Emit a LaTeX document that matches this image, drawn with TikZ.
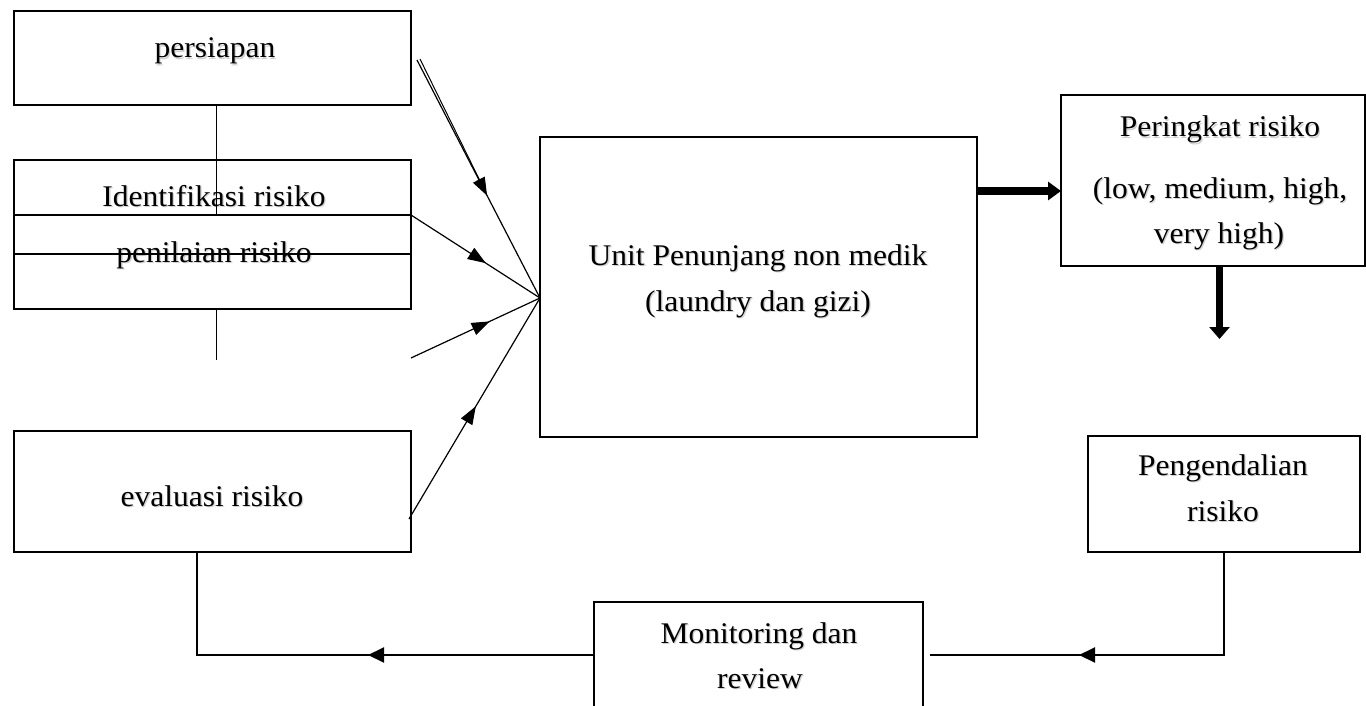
\documentclass[tikz,border=0pt]{standalone}
\usepackage{fontspec}
\setmainfont[FakeStretch=1.05]{Liberation Serif}
\usetikzlibrary{arrows.meta,decorations.markings}
\newcommand{\shadowtext}[1]{\makebox[0pt][l]{\hspace{1.3pt}\raisebox{-1.3pt}{\textcolor{black!18}{#1}}}#1}
\begin{document}
\begin{tikzpicture}[x=1pt,y=-1pt,
  box/.style={draw,line width=2.3pt,inner sep=0pt,outer sep=0pt},
  lbl/.style={anchor=base,inner sep=0pt,font=\fontsize{30}{36}\selectfont},
  conn/.style={line width=1.2pt},
  thickarr/.style={line width=7pt},
  midarrow/.style={postaction={decorate},decoration={markings,
      mark=at position #1 with {\arrow{Triangle[length=18pt,width=13pt]}}}}
]
\clip (0,0) rectangle (1366,706);
\fill[white] (0,0) rectangle (1366,706);

% texts
\node[lbl] (tprep) at (215,58) {\shadowtext{persiapan}};
\node[lbl] (tident) at (214,206) {\shadowtext{Identifikasi risiko}};
\node[lbl] (tpenil) at (214,262) {\shadowtext{penilaian risiko}};
\node[lbl] (teval) at (212,506) {\shadowtext{evaluasi risiko}};
\node[lbl] (tunit1) at (758,265.5) {\shadowtext{Unit Penunjang non medik}};
\node[lbl] (tunit2) at (758,311.5) {\shadowtext{(laundry dan gizi)}};
\node[lbl] (trank1) at (1220,137) {\shadowtext{Peringkat risiko}};
\node[lbl] (trank2) at (1220,198) {\shadowtext{(low, medium, high,}};
\node[lbl] (trank3) at (1219,243) {\shadowtext{very high)}};
\node[lbl] (tctrl1) at (1223,475) {\shadowtext{Pengendalian}};
\node[lbl] (tctrl2) at (1223,521) {\shadowtext{risiko}};
\node[lbl] (tmon1) at (759,643) {\shadowtext{Monitoring dan}};
\node[lbl] (tmon2) at (760,688) {\shadowtext{review}};

% boxes
\node[box,minimum width=397pt,minimum height=94pt] (prep) at (212.5,58) {};
\node[box,minimum width=397pt,minimum height=94pt] (ident) at (212.5,207) {};
\node[box,minimum width=397pt,minimum height=94pt] (penil) at (212.5,262) {};
\node[box,minimum width=397pt,minimum height=121pt] (eval) at (212.5,491.5) {};
\node[box,minimum width=437pt,minimum height=300pt] (unit) at (758.5,287) {};
\node[box,minimum width=304pt,minimum height=171pt] (rank) at (1213,180.5) {};
\node[box,minimum width=272pt,minimum height=116pt] (ctrl) at (1224,494) {};
\node[box,minimum width=329pt,minimum height=138pt] (mon) at (758.5,671) {};

% vertical line through left column
\coordinate (vx) at (216,0);
\coordinate (vend) at (216,360);
\draw[conn,line width=1pt] (prep.south -| vx) -- (penil.north -| vx);
\draw[conn,line width=1pt] (penil.south -| vx) -- (vend);

% converging arrows
\coordinate (conv) at (540,298);
\coordinate (s1) at (417,60);
\coordinate (s1b) at (420,59);
\coordinate (m1) at (483,187);
\coordinate (s3) at (411,358);
\coordinate (s4) at (409,519);
\draw[conn,midarrow=0.57] (s1) -- (conv);
\draw[conn,line width=1pt] (s1b) -- (m1);
\draw[conn,midarrow=0.58] (penil.north east) -- (conv);
\draw[conn,midarrow=0.61] (s3) -- (conv);
\draw[conn,midarrow=0.51] (s4) -- (conv);

% thick arrows
\coordinate (ya) at (0,191);
\draw[thickarr,-{Triangle[length=13pt,width=18pt]}] (unit.east |- ya) -- (rank.west |- ya);
\coordinate (dn) at (1219.5,339);
\draw[thickarr,-{Triangle[length=12pt,width=20pt]}] (rank.south -| dn) -- (dn);

% bottom loop
\coordinate (br) at (1224,655);
\coordinate (bre) at (930,655);
\draw[conn] (ctrl.south) -- (br) -- (bre);
\coordinate (ha1) at (1190,655);
\coordinate (ha2) at (1079,655);
\draw[line width=2pt,-{Triangle[length=16pt,width=15pt]}] (ha1) -- (ha2);

\coordinate (bl) at (197,655);
\draw[conn] (mon.west |- bl) -- (bl) -- (eval.south -| bl);
\coordinate (hb1) at (483,655);
\coordinate (hb2) at (368,655);
\draw[line width=2pt,-{Triangle[length=16pt,width=15pt]}] (hb1) -- (hb2);
\end{tikzpicture}
\end{document}
